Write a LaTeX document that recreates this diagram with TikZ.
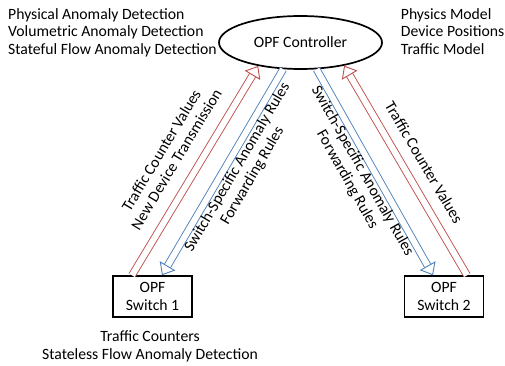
\documentclass[tikz,border=0pt]{standalone}
\usepackage{fontspec}
\setmainfont{Carlito}
\usetikzlibrary{arrows.meta,shapes.geometric,positioning}
\definecolor{opfred}{RGB}{192,80,77}
\definecolor{opfblue}{RGB}{79,129,189}
\tikzset{
  flow/.style={double=white, double distance=6pt, line width=0.9pt, -{Triangle[length=11pt,width=18pt,fill=white,line width=0.9pt]}},
  upflow/.style={flow, draw=opfred},
  downflow/.style={flow, draw=opfblue},
  switchbox/.style={draw, line width=1.5pt, minimum width=79pt, minimum height=41pt, align=center, inner sep=2pt},
  notes/.style={align=left, anchor=north west, inner sep=0pt},
  lbl/.style={align=center, sloped},
}
\begin{document}
\begin{tikzpicture}[x=1pt,y=-1pt,font=\fontsize{15.7}{17.5}\selectfont]
\useasboundingbox (0,0) rectangle (505,366);

\node[draw, ellipse, line width=1.7pt, minimum width=163pt, minimum height=53pt] (ctrl) at (300.5,42.5) {OPF Controller};
\node[switchbox] (sw1) at (152.5,296.5) {OPF\\Switch 1};
\node[switchbox] (sw2) at (444,296.5) {OPF\\Switch 2};

\node[notes] (ctrlchecks) at (8,8) {Physical Anomaly Detection\\Volumetric Anomaly Detection\\Stateful Flow Anomaly Detection};
\node[notes] (ctrlmodels) at (400.7,8) {Physics Model\\Device Positions\\Traffic Model};
\node[below=13pt of sw1, xshift=-2.5pt, align=center, inner sep=0pt] (sw1notes) {Traffic Counters\\Stateless Flow Anomaly Detection};

% switch 1
\path[upflow] ([xshift=-20.5pt]sw1.north) -- node[lbl, above, inner ysep=16pt] {Traffic Counter Values\\New Device Transmission} (ctrl.209);
\path[downflow] (ctrl.237.5) -- node[lbl, below, pos=0.45, inner ysep=3pt] {Switch-Specific Anomaly Rules\\Forwarding Rules} ([xshift=9.5pt]sw1.north);

% switch 2
\path[downflow] (ctrl.301) -- node[lbl, below, pos=0.47, inner ysep=3pt] {Switch-Specific Anomaly Rules\\Forwarding Rules} ([xshift=-11pt]sw2.north);
\path[upflow] ([xshift=23pt]sw2.north) -- node[lbl, above, pos=0.49, inner ysep=14pt] {Traffic Counter Values} (ctrl.332);
\end{tikzpicture}
\end{document}
